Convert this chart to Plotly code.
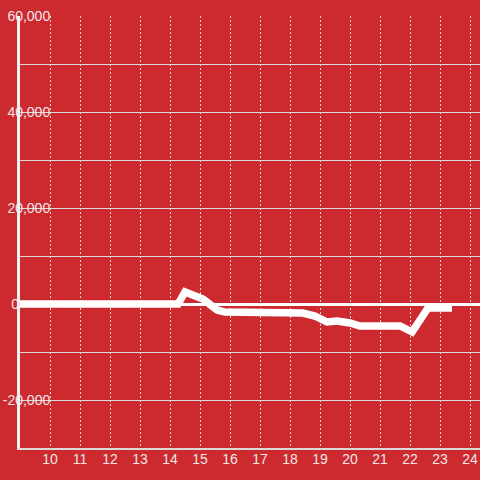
import plotly.graph_objects as go

# hours of the day and running balance
hours = [9.0, 14.27, 14.5, 14.83, 15.1, 15.57, 15.83, 18.43, 18.83, 19.23,
         19.57, 20.0, 20.33, 21.67, 22.07, 22.6, 23.4]
balance = [0, 0, 2500, 1460, 1040, -1250, -1670, -1875, -2500, -3750,
           -3540, -3960, -4580, -4580, -5830, -830, -830]

x_ticks = list(range(10, 25))
y_ticks = [-20000, 0, 20000, 40000, 60000]
# the "0" label sits further left in the original, padded with no-break spaces
y_labels = ["-20,000", "0" + "\u00a0" * 8, "20,000", "40,000", "60,000"]

BG = "#cc2a2f"
GRID = "#d9d9d9"
TEXT = "#f2e6e6"

fig = go.Figure()
fig.add_trace(go.Scatter(
    x=hours,
    y=balance,
    mode="lines",
    line=dict(color="white", width=7.5),
    hoverinfo="skip",
))

# label backgrounds so gridlines stop short of the y tick labels
for t in y_ticks:
    if t == 0:
        continue
    fig.add_shape(
        type="rect", layer="between",
        xref="paper", x0=0, x1=0.074,
        y0=t - 1600, y1=t + 1600,
        fillcolor=BG, line_width=0,
    )

fig.update_layout(
    width=480,
    height=480,
    paper_bgcolor=BG,
    plot_bgcolor=BG,
    margin=dict(l=20, r=0, t=16, b=32),
    showlegend=False,
    font=dict(family="Liberation Sans, Arial, sans-serif", size=14, color=TEXT),
)

fig.update_xaxes(
    range=[9, 24.333],
    tickvals=x_ticks,
    ticktext=[str(t) for t in x_ticks],
    showgrid=True,
    gridcolor=GRID,
    gridwidth=1,
    griddash="2px,2px",
    zeroline=False,
    showline=True,
    linecolor=GRID,
    linewidth=1.5,
    ticks="",
    ticklabelstandoff=-3,
    automargin=False,
)

fig.update_yaxes(
    range=[-30000, 60000],
    tickvals=y_ticks,
    ticktext=y_labels,
    showgrid=True,
    gridcolor=GRID,
    gridwidth=1,
    minor=dict(dtick=10000, showgrid=True, gridcolor=GRID, gridwidth=1),
    zeroline=True,
    zerolinecolor="white",
    zerolinewidth=3,
    showline=True,
    linecolor="#f2f2f2",
    linewidth=3,
    ticks="",
    ticklabelstandoff=-36,
    automargin=False,
)

# drop the default page margin so the figure sits at the window corner
fig.write_html(
    "out.html",
    config={"displayModeBar": False},
    post_script="document.body.style.margin = '0px';",
)
